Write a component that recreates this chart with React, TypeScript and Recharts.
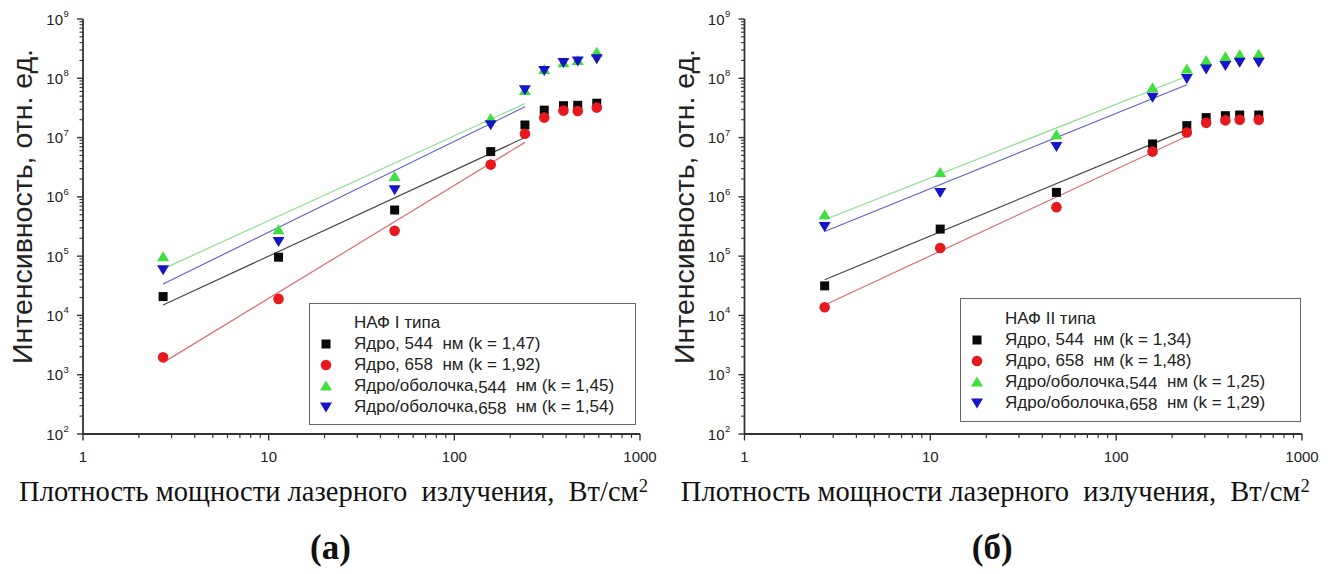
import React from 'react';
import { ComposedChart, Scatter, Line, XAxis, YAxis, Legend } from 'recharts';

// ---------- data ----------
const X_POWER = [2.7, 11.3, 47.7, 157, 240, 305, 387, 462, 585];

// panel (а): НАФ I типа
const A_CORE_544 = [2.08e4, 9.6e4, 6.0e5, 5.8e6, 1.63e7, 2.9e7, 3.45e7, 3.5e7, 3.8e7];
const A_CORE_658 = [1.97e3, 1.9e4, 2.67e5, 3.5e6, 1.16e7, 2.17e7, 2.85e7, 2.8e7, 3.2e7];
const A_CS_544 = [9.8e4, 2.78e5, 2.2e6, 2.1e7, 6.2e7, 1.4e8, 1.82e8, 2.0e8, 2.75e8];
const A_CS_658 = [5.9e4, 1.77e5, 1.32e6, 1.65e7, 6.4e7, 1.35e8, 1.85e8, 1.95e8, 2.13e8];

// panel (б): НАФ II типа
const B_CORE_544 = [3.15e4, 2.86e5, 1.19e6, 7.8e6, 1.59e7, 2.17e7, 2.34e7, 2.4e7, 2.4e7];
const B_CORE_658 = [1.37e4, 1.37e5, 6.7e5, 5.8e6, 1.22e7, 1.77e7, 1.95e7, 2.0e7, 2.0e7];
const B_CS_544 = [5.0e5, 2.58e6, 1.12e7, 6.9e7, 1.44e8, 2.0e8, 2.3e8, 2.5e8, 2.55e8];
const B_CS_658 = [3.16e5, 1.19e6, 7.1e6, 4.8e7, 9.9e7, 1.44e8, 1.64e8, 1.86e8, 1.86e8];

// fitted lines (end points)
const FIT_X = [2.7, 240];
const A_FIT_CORE_544 = [1.5e4, 1.0e7];
const A_FIT_CORE_658 = [1.6e3, 8.3e6];
const A_FIT_CS_544 = [6.1e4, 3.74e7];
const A_FIT_CS_658 = [3.4e4, 3.3e7];
const B_FIT_CORE_544 = [4.0e4, 1.36e7];
const B_FIT_CORE_658 = [1.5e4, 1.05e7];
const B_FIT_CS_544 = [4.1e5, 1.08e8];
const B_FIT_CS_658 = [2.6e5, 7.8e7];

// legend texts
const A_TITLE = 'НАФ I типа';
const B_TITLE = 'НАФ II типа';
const A_K = ['1,47', '1,92', '1,45', '1,54'];
const B_K = ['1,34', '1,48', '1,25', '1,29'];

// ticks
const X_MAJOR_TICKS = [1, 10, 100, 1000];
const X_TICK_LABELS = ['1', '10', '100', '1000'];
const Y_MAJOR_TICKS = [1e2, 1e3, 1e4, 1e5, 1e6, 1e7, 1e8, 1e9];
const Y_TICK_EXPONENTS = ['2', '3', '4', '5', '6', '7', '8', '9'];
const MINOR_MULTIPLIERS = [2, 3, 4, 5, 6, 7, 8, 9];

const X_TICKS = [
  ...X_MAJOR_TICKS,
  ...X_MAJOR_TICKS.slice(0, -1).flatMap((d) => MINOR_MULTIPLIERS.map((m) => m * d)),
].sort((a, b) => a - b);
const Y_TICKS = [
  ...Y_MAJOR_TICKS,
  ...Y_MAJOR_TICKS.slice(0, -1).flatMap((d) => MINOR_MULTIPLIERS.map((m) => m * d)),
].sort((a, b) => a - b);

const toPoints = (xs: number[], ys: number[]) => xs.map((x, i) => ({ x, y: ys[i] }));

// ---------- styles ----------
const SANS = "'Liberation Sans', Arial, sans-serif";
const SERIF = "'Liberation Serif', 'Times New Roman', serif";
const AXIS = '#333';
const TEXT = '#222';

const C_BLACK = '#0a0a0a';
const C_RED = '#e8191e';
const C_GREEN = '#3ee03e';
const C_BLUE = '#1414c8';
const F_BLACK = '#4a4a4a';
const F_RED = '#d87070';
const F_GREEN = '#8edc8e';
const F_BLUE = '#6464c8';

const Square = ({ cx, cy, fill }: any) => (
  <rect x={cx - 4.5} y={cy - 4.5} width={9} height={9} fill={fill} />
);
const Circle = ({ cx, cy, fill }: any) => <circle cx={cx} cy={cy} r={5.3} fill={fill} />;
const TriUp = ({ cx, cy, fill }: any) => (
  <polygon points={`${cx},${cy - 5.5} ${cx + 6},${cy + 4.5} ${cx - 6},${cy + 4.5}`} fill={fill} />
);
const TriDown = ({ cx, cy, fill }: any) => (
  <polygon points={`${cx},${cy + 5.5} ${cx + 6},${cy - 4.5} ${cx - 6},${cy - 4.5}`} fill={fill} />
);

const XTick = (p: any) => {
  const { x, y, payload } = p;
  const idx = X_MAJOR_TICKS.indexOf(payload.value);
  if (idx < 0) {
    return <line x1={x} x2={x} y1={y} y2={y + 4} stroke={AXIS} strokeWidth={1.2} />;
  }
  return (
    <g>
      <line x1={x} x2={x} y1={y} y2={y + 6.5} stroke={AXIS} strokeWidth={1.4} />
      <text x={x} y={y + 27.5} textAnchor="middle" fontFamily={SANS} fontSize={15} fill={TEXT}>
        {X_TICK_LABELS[idx]}
      </text>
    </g>
  );
};

const YTick = (p: any) => {
  const { x, y, payload } = p;
  const idx = Y_MAJOR_TICKS.indexOf(payload.value);
  if (idx < 0) {
    return <line x1={x - 3.5} x2={x} y1={y} y2={y} stroke={AXIS} strokeWidth={1.1} />;
  }
  return (
    <g>
      <line x1={x - 6} x2={x} y1={y} y2={y} stroke={AXIS} strokeWidth={1.4} />
      <text x={x - 20} y={y + 5.5} textAnchor="end" fontFamily={SANS} fontSize={15} fill={TEXT}>
        10
      </text>
      <text x={x - 19.5} y={y - 2} textAnchor="start" fontFamily={SANS} fontSize={9.5} fill={TEXT}>
        {Y_TICK_EXPONENTS[idx]}
      </text>
    </g>
  );
};

const makeXTitle = (panel: string) => (props: any) => {
  const vb = props.viewBox || {};
  const cx = vb.x + vb.width / 2 - 28;
  const y0 = vb.y;
  return (
    <g>
      <text
        x={cx}
        y={y0 + 67}
        textAnchor="middle"
        fontFamily={SERIF}
        fontSize={28.5}
        fill="#111"
        style={{ whiteSpace: 'pre' }}
      >
        {'Плотность мощности лазерного  излучения,  Вт/см'}
        <tspan fontSize={18.5} dy={-9.5}>
          2
        </tspan>
      </text>
      <text
        x={cx - 3}
        y={y0 + 125}
        textAnchor="middle"
        fontFamily={SERIF}
        fontSize={35}
        fontWeight="bold"
        fill="#111"
      >
        {panel}
      </text>
    </g>
  );
};

const YTitle = (props: any) => {
  const vb = props.viewBox || {};
  const cx = vb.x + vb.width - 61;
  const cy = vb.y + vb.height / 2 - 20;
  return (
    <text
      x={cx}
      y={cy}
      transform={`rotate(-90, ${cx}, ${cy})`}
      textAnchor="middle"
      dominantBaseline="central"
      fontFamily={SANS}
      fontSize={28.5}
      fill={TEXT}
    >
      Интенсивность, отн. ед.
    </text>
  );
};

const LegendMarker = ({ kind, color }: { kind: string; color: string }) => (
  <svg width={14} height={14} style={{ position: 'absolute', left: 9, top: -7 }}>
    {kind === 'square' && <Square cx={7} cy={7} fill={color} />}
    {kind === 'circle' && <Circle cx={7} cy={7} fill={color} />}
    {kind === 'up' && <TriUp cx={7} cy={7} fill={color} />}
    {kind === 'down' && <TriDown cx={7} cy={7} fill={color} />}
  </svg>
);

const makeLegend = (title: string, ks: string[], width: number, height: number) => () => {
  const rows = [
    { kind: 'square', color: C_BLACK, name: 'Ядро, ', nm: '544', sub: false, k: ks[0] },
    { kind: 'circle', color: C_RED, name: 'Ядро, ', nm: '658', sub: false, k: ks[1] },
    { kind: 'up', color: C_GREEN, name: 'Ядро/оболочка,', nm: '544', sub: true, k: ks[2] },
    { kind: 'down', color: C_BLUE, name: 'Ядро/оболочка,', nm: '658', sub: true, k: ks[3] },
  ];
  return (
    <div
      style={{
        position: 'relative',
        width,
        height,
        boxSizing: 'border-box',
        border: '1px solid #666',
        background: '#fff',
        fontFamily: SANS,
        fontSize: 17,
        color: TEXT,
        whiteSpace: 'pre',
      }}
    >
      <div style={{ position: 'absolute', left: 44, top: 19.5 - 11, lineHeight: '22px' }}>{title}</div>
      {rows.map((r, i) => {
        const c = 40.5 + i * 21;
        return (
          <div key={i} style={{ position: 'absolute', left: 0, top: c, width: '100%' }}>
            <LegendMarker kind={r.kind} color={r.color} />
            <div style={{ position: 'absolute', left: 44, top: -11, lineHeight: '22px' }}>
              {r.name}
              <span style={{ position: 'relative', top: r.sub ? 2 : 0 }}>{r.nm}</span>
              {'  нм (k = ' + r.k + ')'}
            </div>
          </div>
        );
      })}
    </div>
  );
};

type PanelProps = {
  left: number;
  right: number;
  core544: number[];
  core658: number[];
  cs544: number[];
  cs658: number[];
  fits: number[][];
  panel: string;
  legend: () => React.ReactElement;
  legendPos: { left: number; top: number };
};

const Panel = (p: PanelProps) => (
  <div style={{ position: 'absolute', left: 0, top: 0, width: 1341, height: 574 }}>
    <ComposedChart
      width={1341}
      height={574}
      margin={{ top: 19, left: p.left, right: p.right, bottom: 110 }}
    >
      <XAxis
        dataKey="x"
        type="number"
        scale="log"
        domain={[1, 1000]}
        allowDataOverflow
        ticks={X_TICKS}
        interval={0}
        height={30}
        tickSize={0}
        tickMargin={0}
        tickLine={false}
        tick={XTick}
        axisLine={{ stroke: AXIS, strokeWidth: 1.8 }}
        label={{ content: makeXTitle(p.panel) }}
      />
      <YAxis
        dataKey="y"
        type="number"
        scale="log"
        domain={[100, 1e9]}
        allowDataOverflow
        ticks={Y_TICKS}
        interval={0}
        width={60}
        tickSize={0}
        tickMargin={0}
        tickLine={false}
        tick={YTick}
        axisLine={{ stroke: AXIS, strokeWidth: 1.8 }}
        label={{ content: YTitle }}
      />
      <Line data={toPoints(FIT_X, p.fits[0])} dataKey="y" stroke={F_BLACK} strokeWidth={1.2} dot={false} isAnimationActive={false} />
      <Line data={toPoints(FIT_X, p.fits[1])} dataKey="y" stroke={F_RED} strokeWidth={1.2} dot={false} isAnimationActive={false} />
      <Line data={toPoints(FIT_X, p.fits[2])} dataKey="y" stroke={F_GREEN} strokeWidth={1.2} dot={false} isAnimationActive={false} />
      <Line data={toPoints(FIT_X, p.fits[3])} dataKey="y" stroke={F_BLUE} strokeWidth={1.2} dot={false} isAnimationActive={false} />
      <Scatter data={toPoints(X_POWER, p.core544)} dataKey="y" fill={C_BLACK} shape={(s: any) => <Square {...s} fill={C_BLACK} />} isAnimationActive={false} />
      <Scatter data={toPoints(X_POWER, p.core658)} dataKey="y" fill={C_RED} shape={(s: any) => <Circle {...s} fill={C_RED} />} isAnimationActive={false} />
      <Scatter data={toPoints(X_POWER, p.cs544)} dataKey="y" fill={C_GREEN} shape={(s: any) => <TriUp {...s} fill={C_GREEN} />} isAnimationActive={false} />
      <Scatter data={toPoints(X_POWER, p.cs658)} dataKey="y" fill={C_BLUE} shape={(s: any) => <TriDown {...s} fill={C_BLUE} />} isAnimationActive={false} />
      <Legend
        layout="vertical"
        align="center"
        verticalAlign="middle"
        content={p.legend}
        wrapperStyle={{ position: 'absolute', left: p.legendPos.left, top: p.legendPos.top, width: 'auto', height: 'auto' }}
      />
    </ComposedChart>
  </div>
);

export default function App() {
  return (
    <div style={{ position: 'absolute', left: 0, top: 0, width: 1341, height: 574, background: '#fff' }}>
      <Panel
        left={23}
        right={701}
        core544={A_CORE_544}
        core658={A_CORE_658}
        cs544={A_CS_544}
        cs658={A_CS_658}
        fits={[A_FIT_CORE_544, A_FIT_CORE_658, A_FIT_CS_544, A_FIT_CS_658]}
        panel="(а)"
        legend={makeLegend(A_TITLE, A_K, 327, 122)}
        legendPos={{ left: 309, top: 302.5 }}
      />
      <Panel
        left={684.5}
        right={39}
        core544={B_CORE_544}
        core658={B_CORE_658}
        cs544={B_CS_544}
        cs658={B_CS_658}
        fits={[B_FIT_CORE_544, B_FIT_CORE_658, B_FIT_CS_544, B_FIT_CS_658]}
        panel="(б)"
        legend={makeLegend(B_TITLE, B_K, 341, 124)}
        legendPos={{ left: 960, top: 298 }}
      />
    </div>
  );
}
